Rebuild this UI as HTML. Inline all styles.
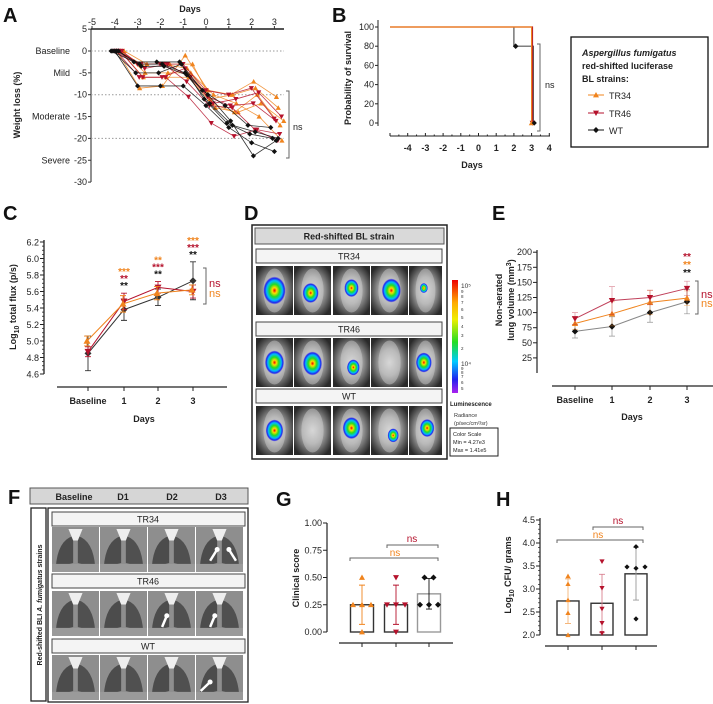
<!DOCTYPE html>
<html><head><meta charset="utf-8"><style>
html,body{margin:0;padding:0;background:#fff;}
svg{display:block;font-family:"Liberation Sans",Arial,sans-serif;}
.t{font-size:9px;fill:#222;}
.b{font-weight:bold;}
</style></head><body>
<svg id="fig" width="713" height="704" viewBox="0 0 713 704" xmlns="http://www.w3.org/2000/svg">
<defs>
<radialGradient id="blob"><stop offset="0" stop-color="#e00"/><stop offset="0.2" stop-color="#fd0"/><stop offset="0.45" stop-color="#2d2"/><stop offset="0.7" stop-color="#0bf"/><stop offset="0.88" stop-color="#22e"/><stop offset="1" stop-color="#22e" stop-opacity="0"/></radialGradient>
<radialGradient id="mouse" cx="0.5" cy="0.5" r="0.6"><stop offset="0" stop-color="#dcdcdc"/><stop offset="0.45" stop-color="#a8a8a8"/><stop offset="0.8" stop-color="#555"/><stop offset="1" stop-color="#2a2a2a"/></radialGradient>
<linearGradient id="cbar" x1="0" y1="0" x2="0" y2="1"><stop offset="0" stop-color="#e00"/><stop offset="0.2" stop-color="#fa0"/><stop offset="0.35" stop-color="#ee0"/><stop offset="0.55" stop-color="#2d2"/><stop offset="0.72" stop-color="#0cf"/><stop offset="0.88" stop-color="#22e"/><stop offset="1" stop-color="#a2e"/></linearGradient>
</defs>
<g font-size="20" font-weight="bold" fill="#111">
<text x="3" y="22">A</text>
<text x="332" y="22">B</text>
<text x="3" y="220">C</text>
<text x="244" y="220">D</text>
<text x="492" y="220">E</text>
<text x="8" y="504">F</text>
<text x="276" y="506">G</text>
<text x="496" y="506">H</text>
</g>
<g id="gA"></g><g id="gB"></g><g id="gC"></g><g id="gD"></g><g id="gE"></g><g id="gF"></g><g id="gG"></g><g id="gH"></g>
</svg>
<script>
var NS='http://www.w3.org/2000/svg';
function el(tag,attrs,parent,txt){var e=document.createElementNS(NS,tag);for(var k in attrs)e.setAttribute(k,attrs[k]);if(txt!==undefined)e.textContent=txt;(parent||document.getElementById('fig')).appendChild(e);return e;}
var OR='#f0841e',RD='#b5122c',BK='#111';
function marker(type,x,y,s,col,p){var e;
 if(type==='tri')e=el('path',{d:'M'+x+','+(y-s)+'L'+(x+s)+','+(y+s*0.8)+'L'+(x-s)+','+(y+s*0.8)+'Z',fill:col},p);
 else if(type==='inv')e=el('path',{d:'M'+x+','+(y+s)+'L'+(x+s)+','+(y-s*0.8)+'L'+(x-s)+','+(y-s*0.8)+'Z',fill:col},p);
 else e=el('path',{d:'M'+x+','+(y-s)+'L'+(x+s)+','+y+'L'+x+','+(y+s)+'L'+(x-s)+','+y+'Z',fill:col},p);
 return e;}

/* ---------- Panel A data ---------- */
var aDays=[-4,-3,-2,-1,0,1,2,3];
var aYTicks=[5,0,-5,-10,-15,-20,-25,-30];
var aXTicks=[-5,-4,-3,-2,-1,0,1,2,3];
var aTR34=[[0,-8.5,-8,-1,-9,-10,-7,-10.5],[0,-3,-3,-4,-11,-10,-8.5,-13],[0,-6,-6,-6,-12,-14,-10,-17],[0,-5,-5,-5,-10,-12,-15,-20.5],[0,-3,-3,-3,-13,-14,-12,-16]];
var aTR46=[[0,-3,-3,-3,-9,-10,-8.5,-15.5],[0,-6,-6,-4,-10.5,-12.5,-12,-16],[0,-3,-3,-7,-12.5,-13,-18,-20.5],[0,-6,-6,-10.5,-16.5,-19.5,-18,-19],[0,-4,-3,-6,-12,-11,-9.5,-15]];
var aWT=[[0,-2.5,-2.5,-2.5,-9,-12.5,-17,-17.5],[0,-5,-5,-3,-11,-16.5,-19,-20],[0,-8,-8,-8,-12.5,-17.5,-21,-23],[0,-3,-3,-5,-10,-16,-24,-20.5],[0,-3.5,-3.5,-5.5,-12,-17,-18.5,-20]];
var aCats=['Baseline','Mild','Moderate','Severe'];
var aCatVals=[0,-5,-15,-25];

/* ---------- Panel B data ---------- */
var bXTicks=[-4,-3,-2,-1,0,1,2,3,4];
var bYTicks=[0,20,40,60,80,100];
var bTR34=[[-5,100],[3,100],[3,0]];
var bTR46=[[-5,100],[3.05,100],[3.05,0]];
var bWT=[[2,100],[2,80],[3.1,80],[3.1,0]];

/* ---------- Panel C data ---------- */
var cCats=['Baseline','1','2','3'];
var cYTicks=[4.6,4.8,5.0,5.2,5.4,5.6,5.8,6.0,6.2];
var cTR34=[5.0,5.45,5.58,5.62];
var cTR34Err=[0.06,0.1,0.08,0.06];
var cTR46=[4.87,5.48,5.65,5.60];
var cTR46Err=[0.06,0.1,0.07,0.08];
var cWT=[4.85,5.38,5.53,5.73];
var cWTErr=[0.21,0.13,0.1,0.23];

/* ---------- Panel E data ---------- */
var eCats=['Baseline','1','2','3'];
var eYTicks=[25,50,75,100,125,150,175,200];
var eTR34=[82,98,117,124];
var eTR34Err=[10,20,20,12];
var eTR46=[90,120,125,140];
var eTR46Err=[10,23,12,12];
var eWT=[69,77,100,118];
var eWTErr=[11,16,16,20];

/* ---------- Panel G data ---------- */
var gYTicks=[0,0.25,0.5,0.75,1.0];
var gMeans=[0.25,0.25,0.35];
var gErrHi=[0.43,0.43,0.49];
var gErrLo=[0.07,0.07,0.21];
var gPtsTR34=[0.5,0.25,0.25,0.25,0];
var gPtsTR46=[0.5,0.25,0.25,0.25,0];
var gPtsWT=[0.5,0.5,0.25,0.25,0.25];

/* ---------- Panel H data ---------- */
var hYTicks=[2.0,2.5,3.0,3.5,4.0,4.5];
var hMeans=[2.74,2.69,3.33];
var hErrHi=[3.22,3.32,3.9];
var hErrLo=[2.25,2.05,2.76];
var hPtsTR34=[3.28,3.11,2.76,2.48,2.0];
var hPtsTR46=[3.6,3.02,2.57,2.26,2.04];
var hPtsWT=[3.92,3.48,3.45,3.48,2.35];

/* ================= A ================= */
(function(){
var g=document.getElementById('gA');
function ax(d){return 206+d*22.8;} function ay(v){return 51-v*4.37;}
var t;
t=el('text',{x:190,y:12,'text-anchor':'middle','class':'t b','font-size':'11'},g,'Days');


el('line',{x1:91,y1:29,x2:284,y2:29,stroke:'#555','stroke-width':2},g);
el('line',{x1:91,y1:29,x2:91,y2:182,stroke:'#222','stroke-width':1},g);
aXTicks.forEach(function(d){el('line',{x1:ax(d),y1:26,x2:ax(d),y2:29,stroke:'#333'},g);
 t=el('text',{x:ax(d),y:25,'text-anchor':'middle','class':'t'},g,String(d));
 
 });
aYTicks.forEach(function(v){el('line',{x1:88,y1:ay(v),x2:91,y2:ay(v),stroke:'#333'},g);
 t=el('text',{x:87,y:ay(v)+3,'text-anchor':'end','class':'t'},g,String(v));
 
 });
aCats.forEach(function(c,i){t=el('text',{x:70,y:ay(aCatVals[i])+3,'text-anchor':'end','class':'t','font-size':'10'},g,c);
 
 });
[0,-10,-20].forEach(function(v){el('line',{x1:91,y1:ay(v),x2:284,y2:ay(v),stroke:'#999','stroke-dasharray':'1.5,2'},g);});
t=el('text',{x:0,y:0,transform:'translate(20,105) rotate(-90)','text-anchor':'middle','class':'t b','font-size':'11'},g,'Weight loss (%)');


function series(arr,col,type,off){arr.forEach(function(m,mi){var jit=off+(mi-2)*0.08;
 var pts=m.map(function(v,i){return ax(aDays[i]+jit)+','+ay(v);}).join(' ');
 var l=el('polyline',{points:pts,fill:'none',stroke:col,'stroke-width':0.8,opacity:0.85},g);
 
 
 m.forEach(function(v,i){var mk=marker(type,ax(aDays[i]+jit),ay(v),2.6,col,g);
  
  });});}
series(aTR34,OR,'tri',0.25);series(aTR46,RD,'inv',0.15);series(aWT,BK,'dia',0.0);
el('path',{d:'M286,91H289V158H286',fill:'none',stroke:'#666'},g);
t=el('text',{x:293,y:130,'class':'t','font-size':'11'},g,'ns');


})();

/* ================= B ================= */
(function(){
var g=document.getElementById('gB');
function bx(d){return 390+(d+5)*17.7;} function by(p){return 123-p*0.96;}
var t;
el('line',{x1:378,y1:20,x2:378,y2:126,stroke:'#222'},g);
bYTicks.forEach(function(v){el('line',{x1:375,y1:by(v),x2:378,y2:by(v),stroke:'#222'},g);
 t=el('text',{x:374,y:by(v)+3,'text-anchor':'end','class':'t','font-size':'8'},g,String(v));
 
 });
el('line',{x1:390,y1:136,x2:550,y2:136,stroke:'#222'},g);
for(var d=-5;d<=4;d+=0.5){el('line',{x1:bx(d),y1:136,x2:bx(d),y2:d%1===0?133:134.5,stroke:'#222'},g);}
bXTicks.forEach(function(d){t=el('text',{x:bx(d),y:151,'text-anchor':'middle','class':'t b','font-size':'7.5'},g,String(d));
 
 });
t=el('text',{x:472,y:168,'text-anchor':'middle','class':'t b','font-size':'11'},g,'Days');


t=el('text',{x:0,y:0,transform:'translate(351,78) rotate(-90)','text-anchor':'middle','class':'t b','font-size':'10.5'},g,'Probability of survival');


function step(arr,col,name){var l=el('polyline',{points:arr.map(function(p){return bx(p[0])+','+by(p[1]);}).join(' '),fill:'none',stroke:col,'stroke-width':1.2},g);
 
 }
step(bWT,'#555','b-wt-survival');step(bTR46,RD,'b-tr46-survival');step(bTR34,OR,'b-tr34-survival');
var m=marker('dia',bx(bWT[1][0]+0.1),by(bWT[1][1]),2.8,BK,g);


m=marker('inv',bx(3.05),by(0),2.8,RD,g);


m=marker('tri',bx(3),by(0),2.8,OR,g);


m=marker('dia',bx(3.15),by(0),2.6,BK,g);


el('path',{d:'M537,44H540V131H537',fill:'none',stroke:'#666'},g);
t=el('text',{x:545,y:88,'class':'t','font-size':'11'},g,'ns');


var lg=el('g',{},g);


el('rect',{x:571,y:37,width:137,height:110,fill:'#fff',stroke:'#111','stroke-width':1.3},lg);
t=el('text',{x:582,y:56,'class':'t b','font-size':'10','font-style':'italic'},lg,'Aspergillus fumigatus');


el('text',{x:582,y:69,'class':'t b','font-size':'10'},lg,'red-shifted luciferase');
el('text',{x:582,y:82,'class':'t b','font-size':'10'},lg,'BL strains:');
[['TR34',OR,'tri',98],['TR46',RD,'inv',116],['WT',BK,'dia',133]].forEach(function(r){
 el('line',{x1:588,y1:r[3]-3,x2:604,y2:r[3]-3,stroke:r[1]},lg);
 var mk=marker(r[2],596,r[3]-3,3,r[1],lg);
 
 
 var tt=el('text',{x:609,y:r[3]+1,'class':'t','font-size':'10.5'},lg,r[0]);
 
 });
})();

/* ================= C ================= */
(function(){
var g=document.getElementById('gC');
var cx=[88,124,158,193];function cy(v){return 374-(v-4.6)*82.5;}
var t;
el('line',{x1:44,y1:240,x2:44,y2:374,stroke:'#222','stroke-width':1.3},g);
for(var v=4.6;v<=6.21;v+=0.05){el('line',{x1:42,y1:cy(v),x2:44,y2:cy(v),stroke:'#222','stroke-width':0.8},g);}
cYTicks.forEach(function(v){el('line',{x1:40,y1:cy(v),x2:44,y2:cy(v),stroke:'#222'},g);
 t=el('text',{x:39,y:cy(v)+3.5,'text-anchor':'end','class':'t','font-size':'10'},g,v.toFixed(1));
 
 });
el('line',{x1:57,y1:387,x2:227,y2:387,stroke:'#222','stroke-width':1.3},g);
cCats.forEach(function(c,i){el('line',{x1:cx[i],y1:387,x2:cx[i],y2:391,stroke:'#222'},g);
 t=el('text',{x:cx[i],y:404,'text-anchor':'middle','class':'t b','font-size':'9'},g,c);
 
 });
t=el('text',{x:144,y:422,'text-anchor':'middle','class':'t b','font-size':'11'},g,'Days');


t=el('text',{x:0,y:0,transform:'translate(16,307) rotate(-90)','text-anchor':'middle','class':'t b','font-size':'11'},g);


t.innerHTML='Log<tspan font-size="7" dy="3">10</tspan><tspan dy="-3"> total flux (p/s)</tspan>';
function ser(vals,err,col,type,off,name){
 vals.forEach(function(v,i){var x=cx[i]+off;
  el('path',{d:'M'+x+','+cy(v+err[i])+'V'+cy(v-err[i])+'M'+(x-3)+','+cy(v+err[i])+'H'+(x+3)+'M'+(x-3)+','+cy(v-err[i])+'H'+(x+3),stroke:col,'stroke-width':0.9,fill:'none'},g);});
 var l=el('polyline',{points:vals.map(function(v,i){return (cx[i]+off)+','+cy(v);}).join(' '),fill:'none',stroke:col,'stroke-width':1},g);
 
 
 vals.forEach(function(v,i){var m=marker(type,cx[i]+off,cy(v),3.5,col,g);
  
  });}
ser(cWT,cWTErr,'#333','dia',0,'c-wt-line');ser(cTR46,cTR46Err,RD,'inv',0,'c-tr46-line');ser(cTR34,cTR34Err,OR,'tri',-1,'c-tr34-line');
var stars=[[],['***','**','**'],['**','***','**'],['***','***','**']];
[1,2,3].forEach(function(i){var top=cy(Math.max(cWT[i]+cWTErr[i],cTR46[i]+cTR46Err[i],cTR34[i]+cTR34Err[i]))-4;
 [OR,RD,BK].forEach(function(c,k){var s=el('text',{x:cx[i],y:top-(2-k)*7,'text-anchor':'middle','font-size':'10','font-weight':'bold',fill:c},g,stars[i][k]);
  
  });});
el('path',{d:'M203,268H206V304H203',fill:'none',stroke:'#666'},g);
t=el('text',{x:209,y:287,'font-size':'11',fill:RD},g,'ns');


t=el('text',{x:209,y:297,'font-size':'11',fill:OR},g,'ns');


})();

/* ================= D ================= */
(function(){
var g=document.getElementById('gD');
var t;
var box=el('rect',{x:252,y:225,width:195,height:234,fill:'#fff',stroke:'#222','stroke-width':1.5},g);


el('rect',{x:255,y:228,width:189,height:16,fill:'#d9d9d9',stroke:'#555'},g);
t=el('text',{x:349,y:239.5,'text-anchor':'middle','class':'t b','font-size':'8.5'},g,'Red-shifted BL strain');


var rows=[['TR34',249,266],['TR46',322,338],['WT',389,406]];
var cols=[256,294,333,371,409];
var blobs=[[[0.5,0.5,14],[0.45,0.55,10],[0.5,0.45,9],[0.55,0.5,12],[0.45,0.45,5]],
[[0.5,0.5,12],[0.5,0.52,12],[0.55,0.6,8],[0,0,0],[0.45,0.5,10]],
[[0.5,0.5,11],[0,0,0],[0.5,0.45,11],[0.6,0.6,7],[0.55,0.45,9]]];
rows.forEach(function(r,ri){
 el('rect',{x:256,y:r[1],width:186,height:14,fill:'#f4f4f4',stroke:'#444'},g);
 t=el('text',{x:349,y:r[1]+10.5,'text-anchor':'middle','class':'t','font-size':'9'},g,r[0]);
 
 
 cols.forEach(function(x,ci){var w=(ci===4?33:37),h=49;
  el('rect',{x:x,y:r[2],width:w,height:h,fill:'#3a3a3a'},g);
  var im=el('rect',{x:x,y:r[2],width:w,height:h,fill:'url(#mouse)'},g);
  
  
  el('ellipse',{cx:x+w/2,cy:r[2]+h*0.5,rx:w*0.3,ry:h*0.45,fill:'#d0d0d0',opacity:0.45},g);
  var b=blobs[ri][ci];if(b[2]>0){el('ellipse',{cx:x+w*b[0],cy:r[2]+h*b[1],rx:b[2]*0.8,ry:b[2],fill:'url(#blob)'},g);}});});
var cb=el('rect',{x:452,y:280,width:6,height:113,fill:'url(#cbar)'},g);


[['10⁵',288],['9',293],['8',298],['7',304],['6',311],['5',319],['4',328],['3',337],['2',350],['10⁴',366],['9',370],['8',374],['7',378],['6',384],['5',390]].forEach(function(l){
 el('text',{x:461,y:l[1],'font-size':l[0].length>1?'6.5':'4.5',fill:'#333'},g,l[0]);});
t=el('text',{x:450,y:406,'font-size':'6','font-weight':'bold',fill:'#222'},g,'Luminescence');


el('text',{x:454,y:417,'font-size':'5.5',fill:'#333'},g,'Radiance');
el('text',{x:454,y:425,'font-size':'5.5',fill:'#333'},g,'(p/sec/cm²/sr)');
el('rect',{x:450,y:428,width:48,height:28,fill:'#fff',stroke:'#222'},g);
el('text',{x:453,y:436,'font-size':'5.5',fill:'#222'},g,'Color Scale');
el('text',{x:453,y:444,'font-size':'5.5',fill:'#222'},g,'Min = 4.27e3');
el('text',{x:453,y:452,'font-size':'5.5',fill:'#222'},g,'Max = 1.41e5');
})();

/* ================= E ================= */
(function(){
var g=document.getElementById('gE');
var ex=[575,612,650,687];function ey(v){return 373-v*0.604;}
var t;
el('line',{x1:537,y1:250,x2:537,y2:373,stroke:'#222','stroke-width':1.2},g);
eYTicks.forEach(function(v){el('line',{x1:533,y1:ey(v),x2:537,y2:ey(v),stroke:'#222'},g);
 t=el('text',{x:532,y:ey(v)+3,'text-anchor':'end','class':'t','font-size':'9'},g,String(v));
 
 });
el('line',{x1:552,y1:386,x2:713,y2:386,stroke:'#222','stroke-width':1.2},g);
eCats.forEach(function(c,i){el('line',{x1:ex[i],y1:386,x2:ex[i],y2:390,stroke:'#222'},g);
 t=el('text',{x:ex[i],y:403,'text-anchor':'middle','class':'t b','font-size':'9'},g,c);
 
 });
t=el('text',{x:632,y:420,'text-anchor':'middle','class':'t b','font-size':'11'},g,'Days');


t=el('text',{x:0,y:0,transform:'translate(502,300) rotate(-90)','text-anchor':'middle','class':'t b','font-size':'11'},g,'Non-aerated');


t=el('text',{x:0,y:0,transform:'translate(514,300) rotate(-90)','text-anchor':'middle','class':'t b','font-size':'11'},g);
t.innerHTML='lung volume (mm<tspan font-size="7" dy="-3">3</tspan><tspan dy="3">)</tspan>';
function ser(vals,err,col,lc,type,name){
 vals.forEach(function(v,i){var x=ex[i];
  el('path',{d:'M'+x+','+ey(v+err[i])+'V'+ey(v-err[i])+'M'+(x-3)+','+ey(v+err[i])+'H'+(x+3)+'M'+(x-3)+','+ey(v-err[i])+'H'+(x+3),stroke:col,'stroke-width':0.7,fill:'none',opacity:0.45},g);});
 var l=el('polyline',{points:vals.map(function(v,i){return ex[i]+','+ey(v);}).join(' '),fill:'none',stroke:lc,'stroke-width':1},g);
 
 
 vals.forEach(function(v,i){var m=marker(type,ex[i],ey(v),3.2,col,g);
  
  });}
ser(eWT,eWTErr,BK,'#888','dia','e-wt-line');ser(eTR34,eTR34Err,OR,OR,'tri','e-tr34-line');ser(eTR46,eTR46Err,RD,'#c0405a','inv','e-tr46-line');
[[RD,260],[OR,268],[BK,276]].forEach(function(s){var st=el('text',{x:ex[3],y:s[1],'text-anchor':'middle','font-size':'10','font-weight':'bold',fill:s[0]},g,'**');
 
 });
el('path',{d:'M695,281H698V314H695',fill:'none',stroke:'#666'},g);
t=el('text',{x:701,y:298,'font-size':'11',fill:RD},g,'ns');


t=el('text',{x:701,y:307,'font-size':'11',fill:OR},g,'ns');


})();

/* ================= F ================= */
(function(){
var g=document.getElementById('gF');
var t;
el('rect',{x:30,y:488,width:218,height:16,fill:'#d6d6d6',stroke:'#555'},g);
[['Baseline',74],['D1',123],['D2',172],['D3',221]].forEach(function(c){t=el('text',{x:c[1],y:500,'text-anchor':'middle','class':'t b','font-size':'9.5'},g,c[0]);
 
 });
el('rect',{x:31,y:508,width:15,height:193,fill:'#fff',stroke:'#222','stroke-width':1.3},g);
t=el('text',{x:0,y:0,transform:'translate(42,605) rotate(-90)','text-anchor':'middle','font-size':'7','font-weight':'bold',fill:'#222'},g);


t.innerHTML='Red-shifted BLI  <tspan font-style="italic">A. fumigatus</tspan> strains';
el('rect',{x:48,y:508,width:200,height:194,fill:'#fff',stroke:'#222','stroke-width':1.3},g);
var rows=[['TR34',512,527],['TR46',574,591],['WT',639,655]];
var cols=[52,100,148,196];
var arrows=[[[],[],[],[[0.3,0.75,0.45,0.5],[0.85,0.75,0.7,0.5]]],[[],[],[[0.3,0.8,0.4,0.55]],[[0.3,0.8,0.4,0.55]]],[[],[],[],[[0.1,0.8,0.3,0.6]]]];
rows.forEach(function(r,ri){
 el('rect',{x:52,y:r[1],width:193,height:14,fill:'#f4f4f4',stroke:'#444'},g);
 t=el('text',{x:148,y:r[1]+10.5,'text-anchor':'middle','class':'t','font-size':'9'},g,r[0]);
 
 
 cols.forEach(function(x,ci){var w=47,h=45,y=r[2];
  var im=el('rect',{x:x,y:y,width:w,height:h,fill:'#8e8e8e'},g);
  
  
  el('path',{d:'M'+(x+w*0.45)+','+(y+h*0.2)+'Q'+(x+w*0.12)+','+(y+h*0.3)+' '+(x+w*0.08)+','+(y+h*0.9)+'L'+(x+w*0.45)+','+(y+h*0.8)+'Z',fill:'#4c4c4c'},g);
  el('path',{d:'M'+(x+w*0.55)+','+(y+h*0.2)+'Q'+(x+w*0.88)+','+(y+h*0.3)+' '+(x+w*0.92)+','+(y+h*0.9)+'L'+(x+w*0.55)+','+(y+h*0.8)+'Z',fill:'#505050'},g);
  el('rect',{x:x,y:y+h*0.82,width:w,height:h*0.18,fill:'#9a9a9a'},g);
  el('path',{d:'M'+(x+w*0.35)+','+(y+2)+'H'+(x+w*0.65)+'L'+(x+w*0.55)+','+(y+h*0.3)+'H'+(x+w*0.45)+'Z',fill:'#eee'},g);
  arrows[ri][ci].forEach(function(a){el('line',{x1:x+w*a[0],y1:y+h*a[1],x2:x+w*a[2],y2:y+h*a[3],stroke:'#fff','stroke-width':2.5},g);
   el('circle',{cx:x+w*a[2],cy:y+h*a[3],r:2.5,fill:'#fff'},g);});});});
})();

/* ================= G ================= */
(function(){
var g=document.getElementById('gG');
var gx=[362,396,429];function gy(v){return 632-v*109;}
var t;
el('line',{x1:327,y1:523,x2:327,y2:632,stroke:'#222','stroke-width':1.2},g);
gYTicks.forEach(function(v){el('line',{x1:323,y1:gy(v),x2:327,y2:gy(v),stroke:'#222'},g);
 t=el('text',{x:322,y:gy(v)+3,'text-anchor':'end','class':'t','font-size':'8.5'},g,v.toFixed(2));
 
 });
el('line',{x1:339,y1:643,x2:453,y2:643,stroke:'#222','stroke-width':1.2},g);
gx.forEach(function(x){el('line',{x1:x,y1:643,x2:x,y2:647,stroke:'#222'},g);});
t=el('text',{x:0,y:0,transform:'translate(299,578) rotate(-90)','text-anchor':'middle','class':'t b','font-size':'11'},g,'Clinical score');


var cols=[OR,RD,BK],types=['tri','inv','dia'],pts=[gPtsTR34,gPtsTR46,gPtsWT],barStroke=['#333','#333','#999'];
gMeans.forEach(function(m,i){var x=gx[i];
 var b=el('rect',{x:x-11.5,y:gy(m),width:23,height:gy(0)-gy(m),fill:'none',stroke:barStroke[i],'stroke-width':1.4},g);
 
 
 el('path',{d:'M'+x+','+gy(gErrHi[i])+'V'+gy(gErrLo[i])+'M'+(x-3)+','+gy(gErrHi[i])+'H'+(x+3)+'M'+(x-3)+','+gy(gErrLo[i])+'H'+(x+3),stroke:cols[i],'stroke-width':0.9,fill:'none'},g);
 var seen={};pts[i].forEach(function(v){seen[v]=(seen[v]||0)+1;});var cnt={};
 pts[i].forEach(function(v){cnt[v]=(cnt[v]||0);var n=seen[v];var off=(cnt[v]-(n-1)/2)*9;cnt[v]++;
  var p=marker(types[i],x+off,gy(v),3,cols[i],g);
  
  });});
el('path',{d:'M387,548V545H438V548',fill:'none',stroke:'#666'},g);
t=el('text',{x:412,y:542,'text-anchor':'middle','font-size':'10',fill:RD},g,'ns');


el('path',{d:'M350,561V558H438V561',fill:'none',stroke:'#666'},g);
t=el('text',{x:395,y:556,'text-anchor':'middle','font-size':'10',fill:OR},g,'ns');


})();

/* ================= H ================= */
(function(){
var g=document.getElementById('gH');
var hx=[568,602,636];function hy(v){return 635-(v-2)*46;}
var t;
el('line',{x1:540,y1:518,x2:540,y2:635,stroke:'#222','stroke-width':1.2},g);
for(var v=2.0;v<=4.51;v+=0.1){el('line',{x1:538,y1:hy(v),x2:540,y2:hy(v),stroke:'#222','stroke-width':0.7},g);}
hYTicks.forEach(function(v){el('line',{x1:536,y1:hy(v),x2:540,y2:hy(v),stroke:'#222'},g);
 t=el('text',{x:535,y:hy(v)+3,'text-anchor':'end','class':'t','font-size':'9'},g,v.toFixed(1));
 
 });
el('line',{x1:545,y1:646,x2:657,y2:646,stroke:'#222','stroke-width':1.2},g);
hx.forEach(function(x){el('line',{x1:x,y1:646,x2:x,y2:650,stroke:'#222'},g);});
t=el('text',{x:0,y:0,transform:'translate(511,575) rotate(-90)','text-anchor':'middle','class':'t b','font-size':'11'},g);


t.innerHTML='Log<tspan font-size="7" dy="3">10</tspan><tspan dy="-3"> CFU/ grams</tspan>';
var cols=[OR,RD,BK],types=['tri','inv','dia'],pts=[hPtsTR34,hPtsTR46,hPtsWT],ecol=['#f5b57a','#d98090','#999'];
var wtOff=[0,-9,0,9,0];
hMeans.forEach(function(m,i){var x=hx[i];
 var b=el('rect',{x:x-11,y:hy(m),width:22,height:hy(2)-hy(m),fill:'none',stroke:'#333','stroke-width':1.4},g);
 
 
 el('path',{d:'M'+x+','+hy(hErrHi[i])+'V'+hy(hErrLo[i])+'M'+(x-3)+','+hy(hErrHi[i])+'H'+(x+3)+'M'+(x-3)+','+hy(hErrLo[i])+'H'+(x+3),stroke:ecol[i],'stroke-width':0.9,fill:'none'},g);
 pts[i].forEach(function(v,k){var off=i===2?wtOff[k]:0;
  var p=marker(types[i],x+off,hy(v),2.6,cols[i],g);
  
  });});
el('path',{d:'M593,530V527H643V530',fill:'none',stroke:'#666'},g);
t=el('text',{x:618,y:524,'text-anchor':'middle','font-size':'10',fill:RD},g,'ns');


el('path',{d:'M557,543V540H643V543',fill:'none',stroke:'#666'},g);
t=el('text',{x:598,y:538,'text-anchor':'middle','font-size':'10',fill:OR},g,'ns');


})();
</script>
</body></html>
